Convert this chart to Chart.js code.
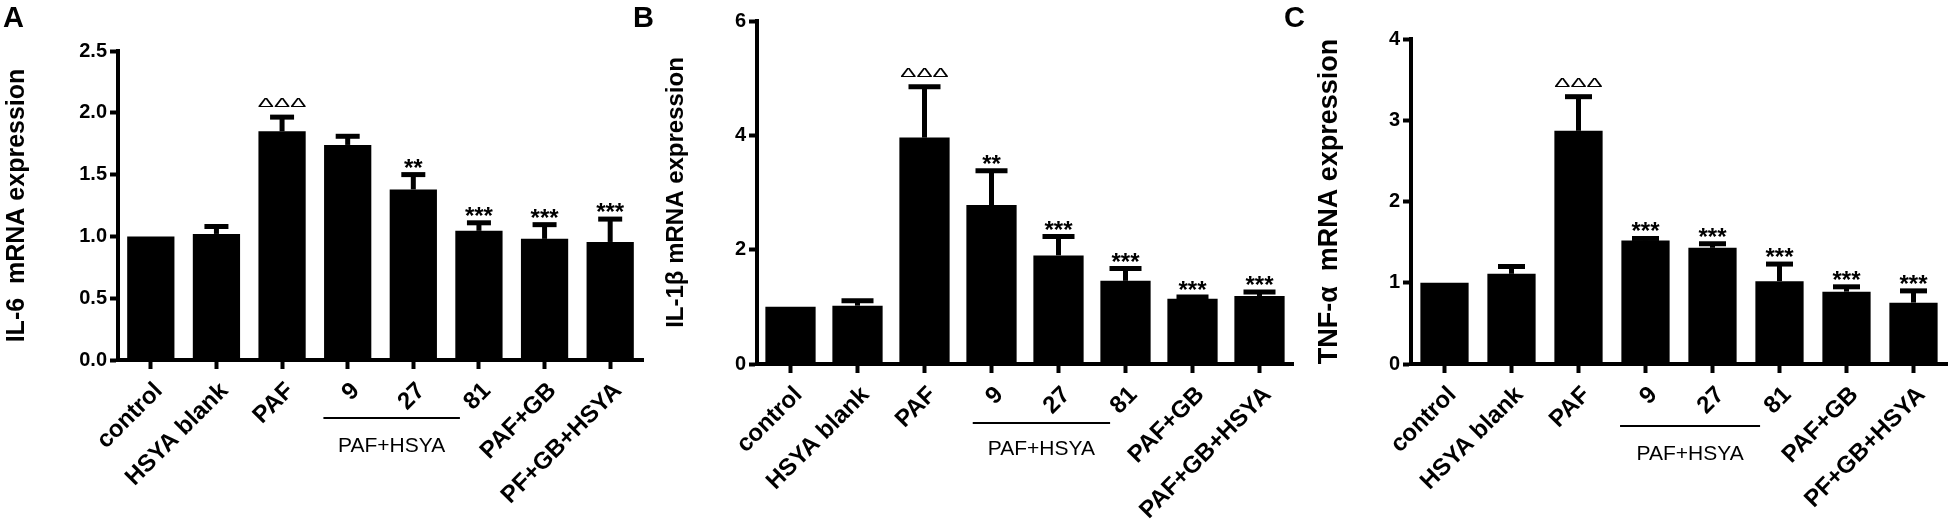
<!DOCTYPE html>
<html>
<head>
<meta charset="utf-8">
<script src="https://cdn.jsdelivr.net/npm/chart.js@4.4.1/dist/chart.umd.min.js"></script>
<style>
  body { margin: 0; background: #fff; }
  #wrap { position: relative; width: 1950px; height: 523px; background: #fff; overflow: hidden; }
  canvas { position: absolute; top: 0; }
  .panel-letter { position: absolute; top: 3px; font: bold 29px "Liberation Sans", Arial, sans-serif; line-height: 29px; color: #000; }
</style>
</head>
<body>
<div id="wrap">
  <canvas id="chartA" width="650" height="523" style="left:0"></canvas>
  <canvas id="chartB" width="650" height="523" style="left:650px"></canvas>
  <canvas id="chartC" width="650" height="523" style="left:1300px"></canvas>
  <div class="panel-letter" style="left:3px">A</div>
  <div class="panel-letter" style="left:633px">B</div>
  <div class="panel-letter" style="left:1284px">C</div>
</div>
<script>
// groups on the x axis
const labelsA = ['control', 'HSYA blank', 'PAF', '9', '27', '81', 'PAF+GB', 'PF+GB+HSYA'];
const labelsB = ['control', 'HSYA blank', 'PAF', '9', '27', '81', 'PAF+GB', 'PAF+GB+HSYA'];
const labelsC = ['control', 'HSYA blank', 'PAF', '9', '27', '81', 'PAF+GB', 'PF+GB+HSYA'];

// IL-6
const il6Mean = [1.0, 1.02, 1.85, 1.74, 1.38, 1.045, 0.98, 0.955];
const il6Err = [0, 0.06, 0.115, 0.07, 0.12, 0.065, 0.115, 0.185];
const il6Marks = ['', '', 'ΔΔΔ', '', '**', '***', '***', '***'];
const il6Ticks = [0, 0.5, 1.0, 1.5, 2.0, 2.5];

// IL-1β
const il1bMean = [1.0, 1.02, 3.96, 2.78, 1.90, 1.455, 1.14, 1.19];
const il1bErr = [0, 0.085, 0.89, 0.6, 0.33, 0.215, 0.03, 0.07];
const il1bMarks = ['', '', 'ΔΔΔ', '**', '***', '***', '***', '***'];
const il1bTicks = [0, 2, 4, 6];

// TNF-α
const tnfMean = [1.0, 1.11, 2.87, 1.52, 1.43, 1.02, 0.89, 0.755];
const tnfErr = [0, 0.09, 0.42, 0.025, 0.05, 0.21, 0.06, 0.145];
const tnfMarks = ['', '', 'ΔΔΔ', '***', '***', '***', '***', '***'];
const tnfTicks = [0, 1, 2, 3, 4];

const groupText = 'PAF+HSYA';
const FONT = '"Liberation Sans", Arial, sans-serif';

const errorMarks = {
    id: 'errorMarks',
    afterDatasetsDraw(chart, args, opts) {
        const ctx = chart.ctx;
        const meta = chart.getDatasetMeta(0);
        const yScale = chart.scales.y;
        const means = chart.data.datasets[0].data;
        ctx.save();
        ctx.strokeStyle = '#000';
        ctx.fillStyle = '#000';
        meta.data.forEach((bar, i) => {
            const e = opts.err[i];
            let top = bar.y;
            if (e > 0) {
                top = yScale.getPixelForValue(means[i] + e);
                ctx.lineWidth = 5;
                ctx.beginPath();
                ctx.moveTo(bar.x, bar.y);
                ctx.lineTo(bar.x, top);
                ctx.stroke();
                ctx.beginPath();
                ctx.moveTo(bar.x - opts.capWidth / 2, top);
                ctx.lineTo(bar.x + opts.capWidth / 2, top);
                ctx.stroke();
            }
            const mark = opts.marks[i];
            if (!mark) return;
            ctx.textAlign = 'center';
            ctx.textBaseline = 'alphabetic';
            if (mark.startsWith('Δ')) {
                // open triangles, squashed like the original
                ctx.save();
                ctx.translate(bar.x, top - 10);
                ctx.scale(1.15, 0.62);
                ctx.font = '21px ' + FONT;
                ctx.fillText(mark, 0, 0);
                ctx.restore();
            } else {
                ctx.font = 'bold 24px ' + FONT;
                ctx.fillText(mark, bar.x, top + 1);
            }
        });
        ctx.restore();
    },
    afterDraw(chart, args, opts) {
        const g = opts.group;
        if (!g) return;
        const ctx = chart.ctx;
        const xs = chart.scales.x;
        const w = xs.getPixelForValue(1) - xs.getPixelForValue(0);
        const x0 = xs.getPixelForValue(g.from) - g.padStart * w;
        const x1 = xs.getPixelForValue(g.to) - g.padEnd * w;
        ctx.save();
        ctx.strokeStyle = '#000';
        ctx.lineWidth = 2;
        ctx.beginPath();
        ctx.moveTo(x0, g.lineY);
        ctx.lineTo(x1, g.lineY);
        ctx.stroke();
        ctx.fillStyle = '#000';
        ctx.font = '21px ' + FONT;
        ctx.textAlign = 'center';
        ctx.textBaseline = 'alphabetic';
        ctx.fillText(groupText, (x0 + x1) / 2, g.textY);
        ctx.restore();
    }
};

function makeChart(id, labels, means, err, marks, ticks, yTitle, layout) {
    const tickMax = ticks[ticks.length - 1];
    const step = ticks[1] - ticks[0];
    const decimals = step < 1 ? 1 : 0;
    return new Chart(document.getElementById(id), {
        type: 'bar',
        data: {
            labels: labels,
            datasets: [{
                data: means,
                backgroundColor: '#000',
                borderWidth: 0,
                barPercentage: layout.barPct,
                categoryPercentage: 1
            }]
        },
        options: {
            responsive: false,
            animation: false,
            devicePixelRatio: 1,
            layout: { padding: { left: 0, right: layout.right, top: layout.top, bottom: 0 } },
            plugins: {
                legend: { display: false },
                tooltip: { enabled: false },
                errorMarks: {
                    err: err,
                    marks: marks,
                    capWidth: layout.cap,
                    group: layout.group
                }
            },
            scales: {
                x: {
                    offset: true,
                    afterFit: s => { s.height = layout.xHeight; },
                    grid: { display: true, offset: false, drawOnChartArea: false, tickLength: 9, tickWidth: 4, tickColor: '#000' },
                    border: { display: true, color: '#000', width: 4 },
                    ticks: {
                        color: '#000',
                        font: { family: FONT, size: 24, weight: 'bold' },
                        minRotation: 45,
                        maxRotation: 45,
                        autoSkip: false,
                        labelOffset: 8,
                        padding: 8
                    }
                },
                y: {
                    min: 0,
                    max: tickMax,
                    afterFit: s => { s.width = layout.yWidth; },
                    grid: { display: true, drawOnChartArea: false, tickLength: 8, tickWidth: 4, tickColor: '#000' },
                    border: { display: true, color: '#000', width: 4 },
                    ticks: {
                        stepSize: step,
                        color: '#000',
                        font: { family: FONT, size: 20, weight: 'bold' },
                        padding: 3,
                        callback: v => Number(v).toFixed(decimals)
                    },
                    title: {
                        display: true,
                        text: yTitle,
                        color: '#000',
                        font: { family: FONT, size: layout.titleSize, weight: 'bold' },
                        padding: { top: layout.titlePad, bottom: 0 }
                    }
                }
            }
        },
        plugins: [errorMarks]
    });
}

makeChart('chartA', labelsA, il6Mean, il6Err, il6Marks, il6Ticks, 'IL-6  mRNA expression', {
    top: 51, right: 7, yWidth: 118, xHeight: 163, barPct: 0.72, cap: 24, titleSize: 25, titlePad: 2,
    group: { from: 3, to: 5, padStart: 0.37, padEnd: 0.29, lineY: 418, textY: 452 }
});
makeChart('chartB', labelsB, il1bMean, il1bErr, il1bMarks, il1bTicks, 'IL-1β mRNA expression', {
    top: 21, right: 7, yWidth: 107, xHeight: 159, barPct: 0.75, cap: 32, titleSize: 24, titlePad: 12,
    group: { from: 3, to: 5, padStart: 0.28, padEnd: 0.23, lineY: 423, textY: 455 }
});
makeChart('chartC', labelsC, tnfMean, tnfErr, tnfMarks, tnfTicks, 'TNF-α  mRNA expression', {
    top: 39, right: 3, yWidth: 111, xHeight: 159, barPct: 0.72, cap: 27, titleSize: 27, titlePad: 13,
    group: { from: 3, to: 5, padStart: 0.38, padEnd: 0.29, lineY: 426, textY: 460 }
});
</script>
</body>
</html>
